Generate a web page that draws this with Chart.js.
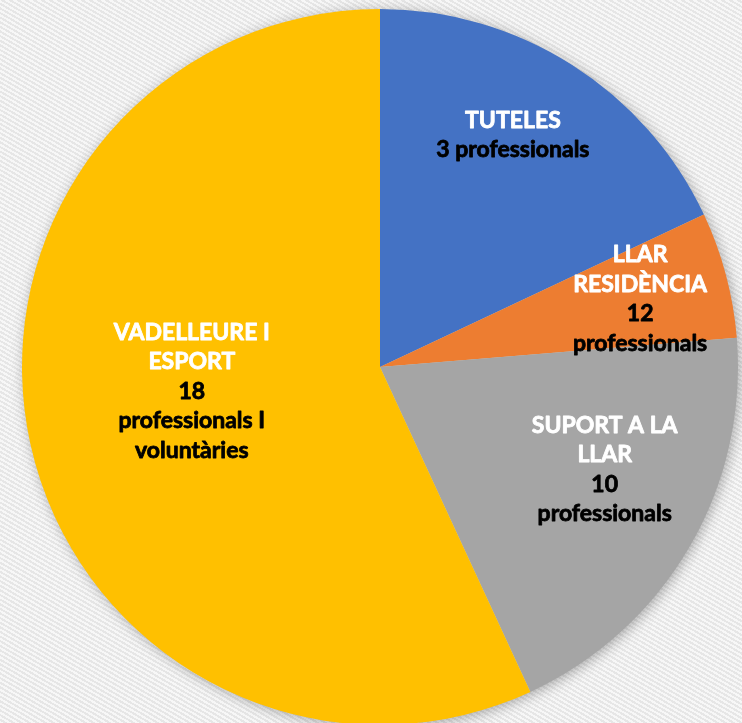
<!DOCTYPE html>
<html>
<head>
<meta charset="utf-8">
<script src="https://cdn.jsdelivr.net/npm/chart.js@4"></script>
<style>
    html, body { margin: 0; padding: 0; overflow: hidden; }
    body {
        width: 742px; height: 723px;
        background-color: #f3f3f3;
        background-image: repeating-linear-gradient(30deg, #f7f7f7 0px, #f7f7f7 2px, #e6e6e6 2px, #e6e6e6 4px);
    }
    #pie { display: block; }
</style>
</head>
<body>
<canvas id="pie" width="742" height="726"></canvas>
<script>
// slice shares (angles of the wedges)
const categories = ['TUTELES', 'LLAR RESIDÈNCIA', 'SUPORT A LA LLAR', 'VADELLEURE I ESPORT'];
const shares = [18, 5.7, 19.4, 56.9];
// label text: white part (name) and black part (people)
const nameLines = [['TUTELES'], ['LLAR', 'RESIDÈNCIA'], ['SUPORT A LA', 'LLAR'], ['VADELLEURE I', 'ESPORT']];
const countLines = [['3 professionals'], ['12', 'professionals'], ['10', 'professionals'], ['18', 'professionals I', 'voluntàries']];

const sliceColors = ['#4472C4', '#ED7D31', '#A5A5A5', '#FFC000'];
// label placement (radius fraction, angle shift in degrees)
const labelRadius = [0.747, 0.751, 0.69, 0.53];
const labelShift = [-2.6, 0.3, -5.7, 5.1];

const shadowPlugin = {
    id: 'pieShadow',
    beforeDatasetsDraw(chart) {
        const arc = chart.getDatasetMeta(0).data[0];
        if (!arc) return;
        const ctx = chart.ctx;
        ctx.save();
        ctx.shadowColor = 'rgba(0,0,0,0.35)';
        ctx.shadowBlur = 14;
        ctx.shadowOffsetX = 2;
        ctx.shadowOffsetY = 2;
        ctx.fillStyle = '#cccccc';
        ctx.beginPath();
        ctx.arc(arc.x, arc.y, arc.outerRadius - 1, 0, Math.PI * 2);
        ctx.fill();
        ctx.restore();
    }
};

const labelPlugin = {
    id: 'sliceLabels',
    afterDatasetsDraw(chart) {
        const ctx = chart.ctx;
        const lineH = 29.5;
        ctx.save();
        ctx.font = 'bold 23px Lato';
        ctx.textAlign = 'center';
        ctx.textBaseline = 'middle';
        ctx.lineWidth = 0.8;
        ctx.lineJoin = 'round';
        chart.getDatasetMeta(0).data.forEach((arc, i) => {
            const a = (arc.startAngle + arc.endAngle) / 2 + labelShift[i] * Math.PI / 180;
            const r = arc.outerRadius * labelRadius[i];
            const cx = arc.x + Math.cos(a) * r;
            const cy = arc.y + Math.sin(a) * r;
            const lines = nameLines[i].map(t => [t, '#ffffff'])
                .concat(countLines[i].map(t => [t, '#000000']));
            let y = cy - (lines.length - 1) * lineH / 2;
            lines.forEach(([t, c]) => {
                ctx.fillStyle = c;
                ctx.strokeStyle = c;
                ctx.fillText(t, cx, y);
                ctx.strokeText(t, cx, y);
                y += lineH;
            });
        });
        ctx.restore();
    }
};

new Chart(document.getElementById('pie').getContext('2d'), {
    type: 'pie',
    data: {
        labels: categories,
        datasets: [{
            data: shares,
            backgroundColor: sliceColors,
            borderWidth: 0
        }]
    },
    options: {
        responsive: false,
        animation: false,
        layout: { padding: { left: 22, right: 4, top: 9, bottom: 1 } },
        plugins: { legend: { display: false }, tooltip: { enabled: false } }
    },
    plugins: [shadowPlugin, labelPlugin]
});
</script>
</body>
</html>
